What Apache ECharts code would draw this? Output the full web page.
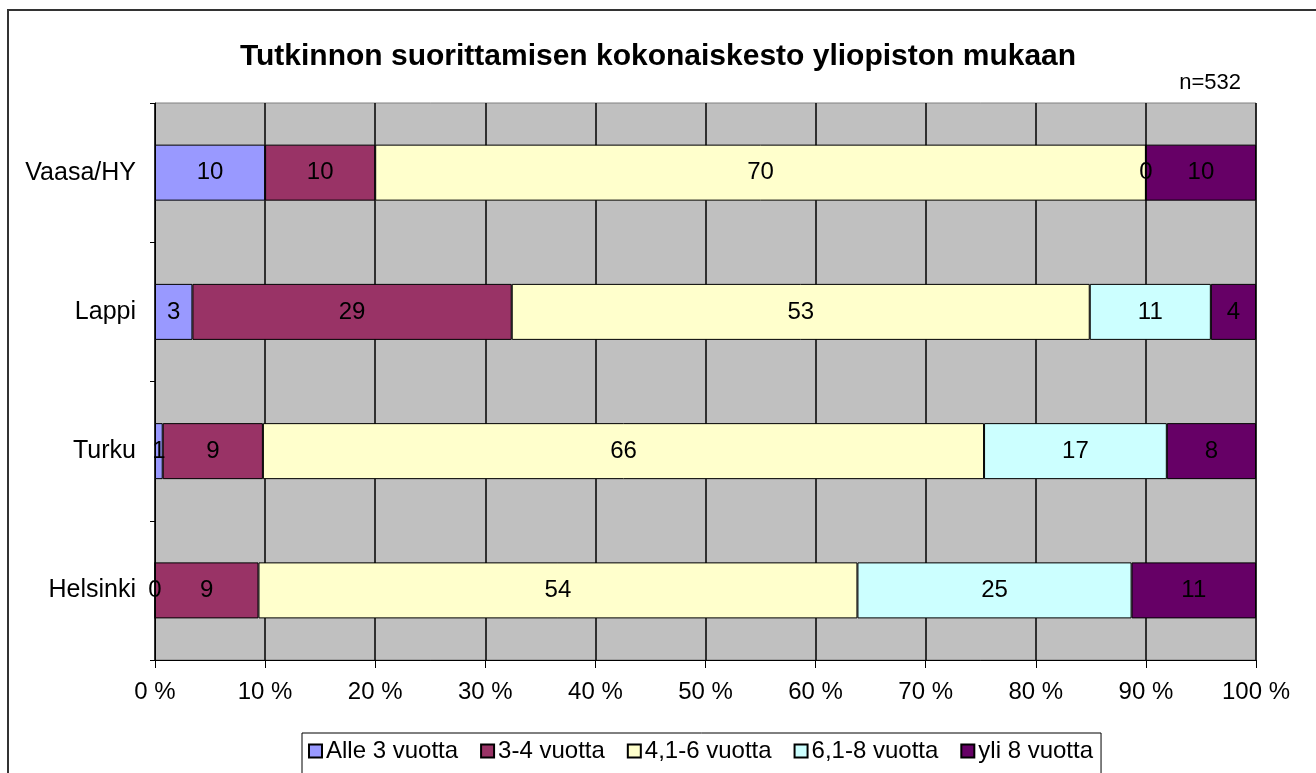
<!DOCTYPE html>
<html><head><meta charset="utf-8">
<script src="https://cdn.jsdelivr.net/npm/echarts@6/dist/echarts.min.js"></script>
<style>html,body{margin:0;padding:0;background:#fff}#c{width:1316px;height:773px}</style>
</head><body><div id="c"></div>
<script>
const categories = ['Helsinki', 'Turku', 'Lappi', 'Vaasa/HY'];
const seriesNames = ['Alle 3 vuotta', '3-4 vuotta', '4,1-6 vuotta', '6,1-8 vuotta', 'yli 8 vuotta'];
const alle3 = [0, 0.7, 3.4, 10];
const v3to4 = [9.4, 9.1, 29.0, 10];
const v41to6 = [54.4, 65.5, 52.5, 70];
const v61to8 = [24.9, 16.6, 11.0, 0];
const yli8 = [11.3, 8.1, 4.1, 10];
const xTicks = ['0 %','10 %','20 %','30 %','40 %','50 %','60 %','70 %','80 %','90 %','100 %'];
const colors = ['#9999FF', '#993366', '#FFFFCC', '#CCFFFF', '#660066'];
const FONT = '"Liberation Sans", Arial, sans-serif';

const seriesData = [alle3, v3to4, v41to6, v61to8, yli8];
const chart = echarts.init(document.getElementById('c'));
chart.setOption({
  animation: false,
  backgroundColor: '#fff',
  textStyle: { fontFamily: FONT },
  title: [
    { text: 'Tutkinnon suorittamisen kokonaiskesto yliopiston mukaan', left: 'center', top: 37,
      textStyle: { fontFamily: FONT, fontSize: 30, fontWeight: 'bold', color: '#000' } },
    { text: 'n=532', right: 70, top: 67, textStyle: { fontFamily: FONT, fontSize: 22, fontWeight: 'normal', color: '#000' } }
  ],
  graphic: [{ type: 'rect', shape: { x: 8, y: 10, width: 1400, height: 800 }, style: { fill: 'none', stroke: '#333', lineWidth: 2 }, silent: true }],
  legend: {
    data: seriesNames,
    top: 733, left: 302,
    icon: 'rect', itemWidth: 13, itemHeight: 13, itemGap: 22,
    borderColor: '#000', borderWidth: 1, padding: [6, 8, 20, 6],
    textStyle: { fontFamily: FONT, fontSize: 24, color: '#000', padding: [0, 0, 0, -1] }
  },
  grid: { left: 155, right: 60, top: 103, bottom: 113, show: true, backgroundColor: '#C0C0C0', borderColor: '#808080', borderWidth: 1 },
  xAxis: {
    type: 'value', min: 0, max: 100, interval: 10,
    axisLine: { show: true, lineStyle: { color: '#000', width: 1 } },
    axisTick: { show: true, length: 8, lineStyle: { color: '#000' } },
    axisLabel: { formatter: v => xTicks[Math.round(v / 10)], fontFamily: FONT, fontSize: 24, color: '#000', margin: 20 },
    splitLine: { show: true, lineStyle: { color: '#000', width: 1.5 } }
  },
  yAxis: {
    type: 'category', data: categories,
    axisLine: { show: true, lineStyle: { color: '#000' } },
    axisTick: { show: true, length: 5, lineStyle: { color: '#000' } },
    axisLabel: { fontFamily: FONT, fontSize: 25, color: '#000', margin: 19 },
    splitLine: { show: false }
  },
  series: seriesNames.map((name, i) => ({
    name, type: 'bar', stack: 'total', barWidth: 56,
    data: seriesData[i],
    itemStyle: { color: colors[i], borderColor: '#000', borderWidth: 1 },
    label: { show: true, position: 'inside', formatter: p => String(Math.round(p.value)),
      fontFamily: FONT, fontSize: 24, color: '#000' }
  }))
});
</script></body></html>
